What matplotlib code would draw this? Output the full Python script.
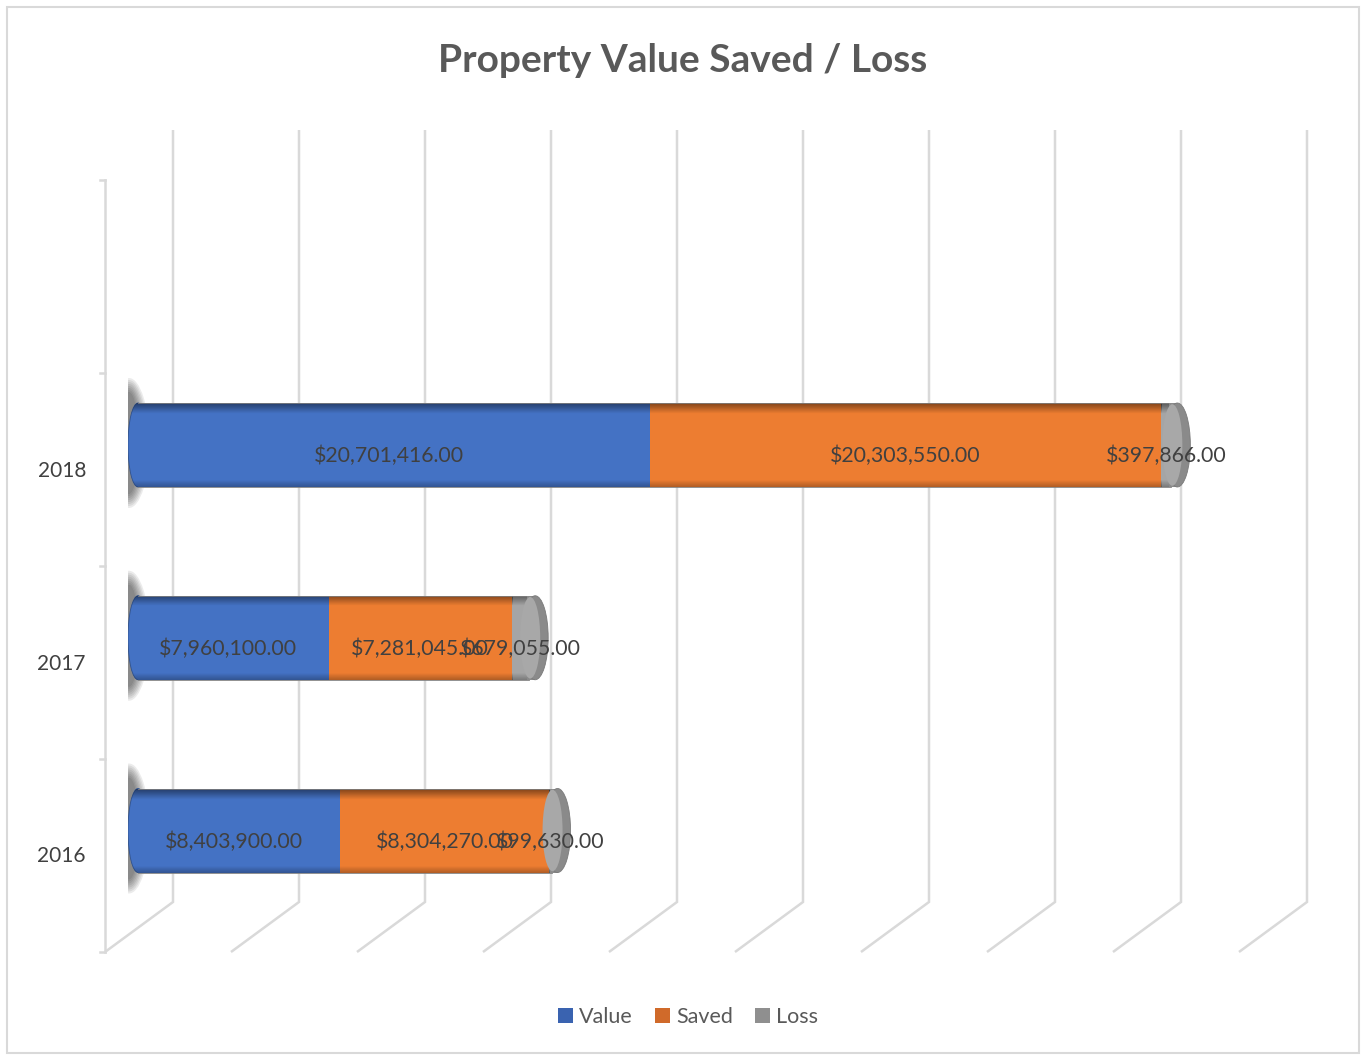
import numpy as np
import matplotlib
matplotlib.use('Agg')
import matplotlib.pyplot as plt
from matplotlib.patches import Ellipse, Rectangle

# ---- data ----
years = ['2016', '2017', '2018']
value = [8403900.00, 7960100.00, 20701416.00]
saved = [8304270.00, 7281045.00, 20303550.00]
loss = [99630.00, 679055.00, 397866.00]
series_names = ['Value', 'Saved', 'Loss']

colors = ['#4472C4', '#ED7D31', '#A5A5A5']
legend_colors = ['#3A63B0', '#D06A2A', '#8F8F8F']
text_c = '#404040'
grid_c = '#d9d9d9'

W, H = 1366, 1057
DPI = 100
plt.rcParams['font.family'] = ['Lato', 'DejaVu Sans']
fig = plt.figure(figsize=(W / DPI, H / DPI), dpi=DPI)

# ---- background decoration (3D walls) in pixel coordinates ----
bg = fig.add_axes([0, 0, 1, 1], zorder=0)
bg.set_xlim(0, W)
bg.set_ylim(H, 0)
bg.axis('off')
bg.add_patch(Rectangle((7, 7), 1352, 1046, fill=False, ec=grid_c, lw=1.5))
for k in range(10):
    xb = 173 + 126 * k
    bg.plot([xb, xb, xb - 68], [130, 902, 952], color=grid_c, lw=1.8,
            solid_joinstyle='miter', solid_capstyle='butt')
bg.plot([105, 105], [180, 952], color=grid_c, lw=1.8)
for k in range(5):
    yk = 180 + 193 * k
    bg.plot([100, 105], [yk, yk], color=grid_c, lw=1.8)

# ---- bar axes ----
px_per_M = 25.2
xmax = 45e6
ax_w = xmax / 1e6 * px_per_M
ax = fig.add_axes([128 / W, 1 - 952 / H, ax_w / W, (952 - 130) / H], zorder=1)
ax.patch.set_alpha(0)
ax.axis('off')
row_px = 192.75
y0_px = 830.5
ylo = -(952 - y0_px) / row_px
yhi = (y0_px - 130) / row_px
ax.set_xlim(0, xmax)
ax.set_ylim(ylo, yhi)

xu = 1e6 / px_per_M      # data units per pixel (x)
yu = 1 / row_px          # data units per pixel (y)
bar_h = 84 * yu

# gradient (black overlay with alpha) for cylinder shading
N = 100
t = np.linspace(0, 1, N)
alpha = np.zeros(N)
alpha += np.where(t < 0.12, 0.45 * (1 - t / 0.12), 0)
alpha += np.where(t > 0.92, 0.25 * (t - 0.92) / 0.08, 0)
grad = np.zeros((N, 1, 4))
grad[:, 0, 3] = alpha


def shade(patch, x0, x1, yc, z):
    im = ax.imshow(grad, extent=[x0, x1, yc - bar_h / 2, yc + bar_h / 2],
                   aspect='auto', origin='upper', zorder=z, interpolation='bilinear')
    im.set_clip_path(patch)


for i in range(len(years)):
    v, s, l = value[i], saved[i], loss[i]
    total = v + s + l
    # soft shadow at left end
    for k in range(8):
        ax.add_patch(Ellipse((1 * xu, i + 2 * yu), (20 + 3 * k) * xu,
                             bar_h + (18 + 4 * k) * yu,
                             fc='#202020', ec='none', alpha=0.085, zorder=2))
    r = 10 * xu
    # value segment with rounded left end
    e = Ellipse((r, i), 2 * r, bar_h, fc=colors[0], ec='#2F528F', lw=0.6, zorder=3)
    ax.add_patch(e)
    shade(e, 0, 2 * r, i, 3.5)
    b1 = ax.barh(i, v - r, left=r, height=bar_h, color=colors[0], zorder=4,
                 edgecolor='none')[0]
    shade(b1, r, v, i, 4.5)
    b2 = ax.barh(i, s, left=v, height=bar_h, color=colors[1], zorder=4,
                 edgecolor='none')[0]
    shade(b2, v, v + s, i, 4.5)
    b3 = ax.barh(i, l, left=v + s, height=bar_h, color=colors[2], zorder=4,
                 edgecolor='none')[0]
    shade(b3, v + s, total, i, 4.5)
    # thin outline top/bottom
    ax.plot([r, total], [i + bar_h / 2, i + bar_h / 2], color='#7f7f7f', lw=0.6, zorder=5)
    ax.plot([r, total], [i - bar_h / 2, i - bar_h / 2], color='#7f7f7f', lw=0.6, zorder=5)
    # end cap
    ax.add_patch(Rectangle((total - 2 * xu, i - bar_h / 2), 8 * xu, bar_h,
                           fc='#8a8a8a', ec='none', zorder=5.8))
    ax.add_patch(Ellipse((total + 6 * xu, i), 26 * xu, bar_h, fc='#8a8a8a', ec='#7a7a7a',
                         lw=0.6, zorder=6))
    ax.add_patch(Ellipse((total + 1 * xu, i), 20 * xu, bar_h * 0.97, fc='#a8a8a8',
                         ec='none', zorder=6.5))

    # data labels
    segs = [(0, v), (v, s), (v + s, l)]
    for left, width in segs:
        ax.annotate(f'${width:,.2f}', xy=(left + width / 2, i), xytext=(0, -11),
                    textcoords='offset pixels', ha='center', va='center',
                    fontsize=15.3, color=text_c, zorder=10)
    # category labels
    ax.annotate(years[i], xy=(86, i), xycoords=('figure pixels', 'data'),
                xytext=(0, -26), textcoords='offset pixels', ha='right', va='center',
                fontsize=15, color=text_c)

# title
fig.text(683 / W, 1 - 60 / H, 'Property Value Saved / Loss', ha='center', va='center',
         fontsize=28, fontweight='bold', color='#595959')

# legend
handles = [Rectangle((0, 0), 1, 1, fc=c, ec='none') for c in legend_colors]
fig.legend(handles, series_names, loc='center', bbox_to_anchor=(688 / W, 1 - 1017 / H),
           ncol=3, frameon=False, fontsize=15.5, handlelength=0.7, handleheight=0.7,
           handletextpad=0.3, columnspacing=1.0, labelcolor='#595959')

fig.savefig('out.png', dpi=DPI)
